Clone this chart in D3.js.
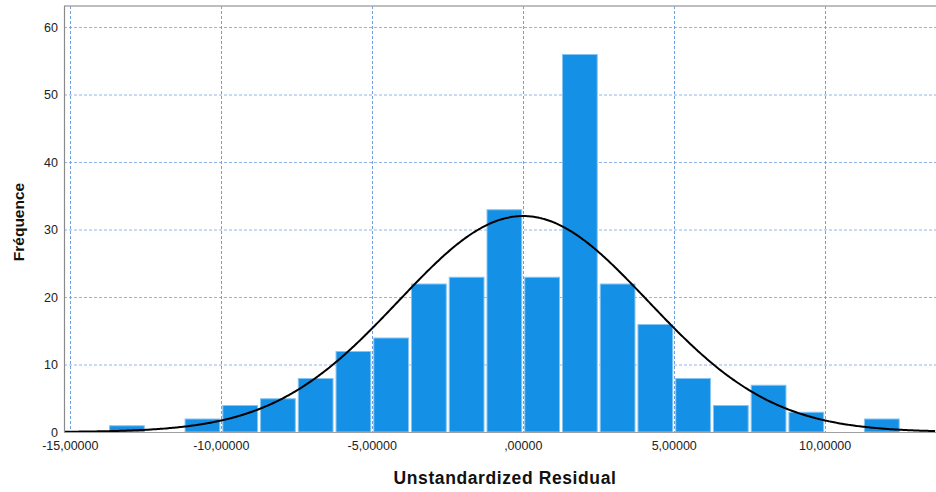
<!DOCTYPE html>
<html>
<head>
<meta charset="utf-8">
<script src="https://cdn.jsdelivr.net/npm/d3@7"></script>
<style>
  html, body { margin: 0; padding: 0; background: #fff; }
  svg { display: block; font-family: "Liberation Sans", Arial, sans-serif; }
</style>
</head>
<body>
<svg id="chart" width="936" height="492"></svg>
<script>
// Histogram bins of the unstandardized residuals (bin width 1.25)
const binStarts = [-13.75, -12.5, -11.25, -10, -8.75, -7.5, -6.25, -5, -3.75, -2.5, -1.25,
                   0, 1.25, 2.5, 3.75, 5, 6.25, 7.5, 8.75, 10, 11.25];
const frequencies = [1, 0, 2, 4, 5, 8, 12, 14, 22, 23, 33,
                     23, 56, 22, 16, 8, 4, 7, 3, 0, 2];
const binWidth = 1.25;

// Fitted normal curve parameters
const residualMean = 0;
const residualStdDev = 4.13;
const sampleSize = 265;

// Axis ticks
const xTicks = [-15, -10, -5, 0, 5, 10];
const xTickLabels = ["-15,00000", "-10,00000", "-5,00000", ",00000", "5,00000", "10,00000"];
const yTicks = [0, 10, 20, 30, 40, 50, 60];

const svg = d3.select("#chart");
const plot = { left: 64, top: 6, right: 936, bottom: 432 };

const x = d3.scaleLinear().domain([-15.21, 13.67]).range([plot.left, plot.right]);
const y = d3.scaleLinear().domain([0, 60]).range([plot.bottom, 27]);

// Grid lines
const grid = svg.append("g");
grid.selectAll("line.h").data(yTicks.filter(d => d > 0)).join("line")
  .attr("x1", plot.left).attr("x2", plot.right)
  .attr("y1", d => y(d) + 0.5).attr("y2", d => y(d) + 0.5)
  .attr("stroke", "#8fb6ea").attr("stroke-width", 1).attr("stroke-dasharray", "3,2");
grid.selectAll("line.v").data(xTicks).join("line")
  .attr("x1", d => Math.round(x(d)) + 0.5).attr("x2", d => Math.round(x(d)) + 0.5)
  .attr("y1", plot.top).attr("y2", plot.bottom)
  .attr("stroke", "#6f9fe0").attr("stroke-width", 1).attr("stroke-dasharray", "3,2");

// Bars
svg.append("g").selectAll("rect")
  .data(binStarts.map((s, i) => ({ s, f: frequencies[i] })).filter(d => d.f > 0))
  .join("rect")
  .attr("x", d => x(d.s) + 1.5)
  .attr("width", d => x(d.s + binWidth) - x(d.s) - 3)
  .attr("y", d => y(d.f) + 0.5)
  .attr("height", d => y(0) - y(d.f) - 0.5)
  .attr("fill", "#1490e6")
  .attr("stroke", "#86c4f1")
  .attr("stroke-width", 1);

// Normal curve scaled to counts
const scaleFactor = sampleSize * binWidth / (residualStdDev * Math.sqrt(2 * Math.PI));
const curveX = d3.range(-15.21, 13.68, 0.05);
const line = d3.line()
  .x(d => x(d))
  .y(d => y(scaleFactor * Math.exp(-0.5 * Math.pow((d - residualMean) / residualStdDev, 2))))
  .curve(d3.curveBasis);
svg.append("path").datum(curveX)
  .attr("d", line)
  .attr("fill", "none")
  .attr("stroke", "#000")
  .attr("stroke-width", 2);

// Frame lines
svg.append("line").attr("x1", plot.left).attr("x2", plot.right)
  .attr("y1", plot.top).attr("y2", plot.top)
  .attr("stroke", "#a8a8a8").attr("stroke-width", 1.5);
svg.append("line").attr("x1", plot.left + 0.5).attr("x2", plot.left + 0.5)
  .attr("y1", plot.top).attr("y2", plot.bottom + 0.5)
  .attr("stroke", "#8a8a8a").attr("stroke-width", 1.2);
svg.append("line").attr("x1", plot.left).attr("x2", plot.right)
  .attr("y1", plot.bottom + 0.5).attr("y2", plot.bottom + 0.5)
  .attr("stroke", "#a0a0a0").attr("stroke-width", 1);

// Y tick labels
svg.append("g").selectAll("text").data(yTicks).join("text")
  .attr("x", 58).attr("y", d => y(d) + 4.5)
  .attr("text-anchor", "end")
  .attr("font-size", 12.5).attr("fill", "#222")
  .text(d => d);

// X tick labels
svg.append("g").selectAll("text").data(xTicks).join("text")
  .attr("x", d => x(d)).attr("y", 450)
  .attr("text-anchor", "middle")
  .attr("font-size", 12.5).attr("fill", "#222")
  .text((d, i) => xTickLabels[i]);

// Axis titles
svg.append("text")
  .attr("x", 505).attr("y", 484)
  .attr("text-anchor", "middle")
  .attr("font-size", 17.5).attr("font-weight", "bold").attr("fill", "#111")
  .attr("letter-spacing", 0.6)
  .text("Unstandardized Residual");
svg.append("text")
  .attr("transform", "translate(24,222) rotate(-90)")
  .attr("text-anchor", "middle")
  .attr("font-size", 15.5).attr("font-weight", "bold").attr("fill", "#111")
  .text("Fréquence");
</script>
</body>
</html>
